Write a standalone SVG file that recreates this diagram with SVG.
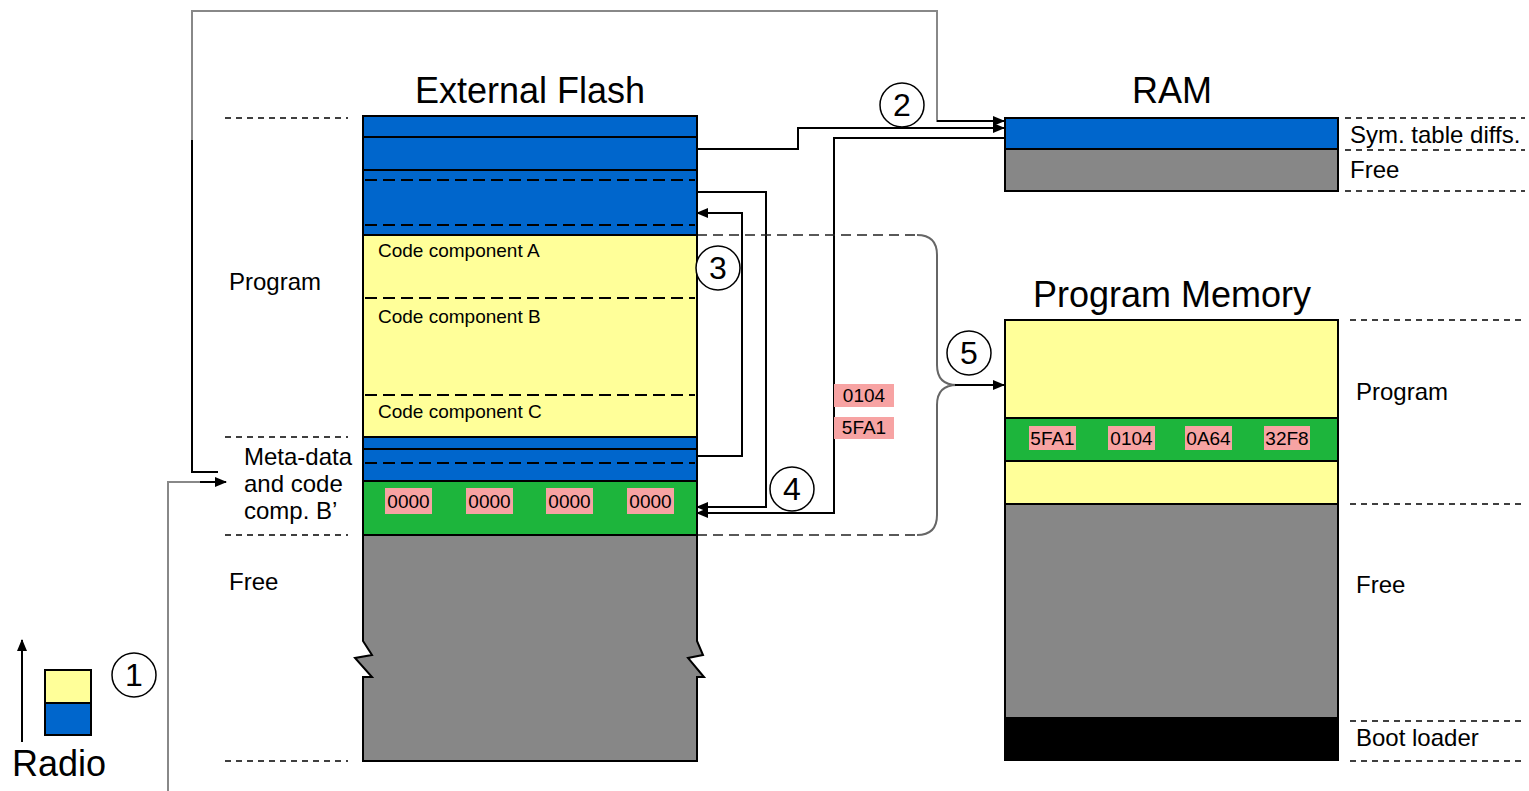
<svg xmlns="http://www.w3.org/2000/svg" width="1529" height="791" viewBox="0 0 1529 791">
  <style>
    .title { font-family: "Liberation Sans", Arial, sans-serif; font-size: 36px; fill: #000; }
    .lbl { font-family: "Liberation Sans", Arial, sans-serif; font-size: 24px; fill: #000; }
    .code { font-family: "Liberation Sans", Arial, sans-serif; font-size: 19px; fill: #000; }
    .hex { font-family: "Liberation Sans", Arial, sans-serif; font-size: 19px; fill: #000; text-anchor: middle; }
    .num { font-family: "Liberation Sans", Arial, sans-serif; font-size: 32px; fill: #000; text-anchor: middle; }
    .blue { fill: #0066cc; stroke: #000; stroke-width: 2; }
    .yellow { fill: #ffff99; stroke: #000; stroke-width: 2; }
    .green { fill: #1db53c; stroke: #000; stroke-width: 2; }
    .gray { fill: #878787; stroke: #000; stroke-width: 2; }
    .black { fill: #000; stroke: #000; stroke-width: 2; }
    .tag { fill: #f7a3a3; }
    .div { stroke: #000; stroke-width: 2; stroke-dasharray: 12 6; fill: none; }
    .sep { stroke: #000; stroke-width: 1.5; stroke-dasharray: 6 5; fill: none; }
    .wire { stroke: #000; stroke-width: 2; fill: none; }
    .wireg { stroke: #888; stroke-width: 2; fill: none; }
    .brace { stroke: #666; stroke-width: 2; fill: none; }
    .dash { stroke: #222; stroke-width: 1.5; stroke-dasharray: 10 6; fill: none; }
    .circ { fill: #fff; stroke: #000; stroke-width: 1.5; }
  </style>
  <defs>
    <marker id="arr" markerWidth="12" markerHeight="10" refX="11" refY="5" orient="auto" markerUnits="userSpaceOnUse">
      <path d="M0,0 L12,5 L0,10 Z" fill="#000"/>
    </marker>
  </defs>

  <rect width="1529" height="791" fill="#fff"/>

  <!-- connectors -->
  <g id="connectors">
    <!-- radio download into flash -->
    <polyline class="wireg" points="168,791 168,482 214,482"/>
    <line class="wire" x1="200" y1="482" x2="226" y2="482" marker-end="url(#arr)"/>
    <!-- meta-data path to RAM -->
    <polyline class="wire" points="218,472 192,472 192,140"/>
    <polyline class="wireg" points="192,140 192,11 937,11 937,121 960,121"/>
    <line class="wire" x1="937" y1="121" x2="1004" y2="121" marker-end="url(#arr)"/>
    <!-- step 2: symbol table to RAM -->
    <polyline class="wire" points="696,149 798,149 798,128 1004,128" marker-end="url(#arr)"/>
    <!-- step 4: values read back from RAM -->
    <polyline class="wire" points="1005,138 834,138 834,513 697,513" marker-end="url(#arr)"/>
    <!-- step 3 -->
    <polyline class="wire" points="696,456 742,456 742,213 697,213" marker-end="url(#arr)"/>
    <!-- step 4 -->
    <polyline class="wire" points="696,192 766,192 766,507 697,507" marker-end="url(#arr)"/>
    <!-- step 5: brace into program memory -->
    <line class="dash" x1="697" y1="235" x2="917" y2="235"/>
    <line class="dash" x1="697" y1="535" x2="917" y2="535"/>
    <path class="brace" d="M917,235 Q937,235 937,255 V365 Q937,385 957,385 Q937,385 937,405 V515 Q937,535 917,535"/>
    <line class="wire" x1="955" y1="385" x2="1004" y2="385" marker-end="url(#arr)"/>
    <!-- radio legend arrow -->
    <line class="wire" x1="22" y1="742" x2="22" y2="640" marker-end="url(#arr)"/>
  </g>

  <!-- External Flash -->
  <g id="flash">
    <text class="title" x="530" y="103" text-anchor="middle">External Flash</text>
    <path class="gray" d="M363,535 H697 V641 L703,655 L688,658 L704,677 H697 V761 H363 V677 H372 L355,658 L372,655 L363,641 Z"/>
    <rect class="blue" x="363" y="116" width="334" height="21"/>
    <rect class="blue" x="363" y="137" width="334" height="33"/>
    <rect class="blue" x="363" y="170" width="334" height="65"/>
    <line class="div" x1="365" y1="180" x2="695" y2="180"/>
    <line class="div" x1="365" y1="225" x2="695" y2="225"/>
    <rect class="yellow" x="363" y="235" width="334" height="202"/>
    <line class="div" x1="365" y1="298" x2="695" y2="298"/>
    <line class="div" x1="365" y1="395" x2="695" y2="395"/>
    <text class="code" x="378" y="257">Code component A</text>
    <text class="code" x="378" y="323">Code component B</text>
    <text class="code" x="378" y="418">Code component C</text>
    <rect class="blue" x="363" y="437" width="334" height="12"/>
    <rect class="blue" x="363" y="449" width="334" height="32"/>
    <line class="div" x1="365" y1="463" x2="695" y2="463"/>
    <rect class="green" x="363" y="481" width="334" height="54"/>
    <rect class="tag" x="385" y="488" width="47" height="26"/>
    <rect class="tag" x="466" y="488" width="47" height="26"/>
    <rect class="tag" x="546" y="488" width="47" height="26"/>
    <rect class="tag" x="627" y="488" width="47" height="26"/>
    <text class="hex" x="408.5" y="508">0000</text>
    <text class="hex" x="489.5" y="508">0000</text>
    <text class="hex" x="569.5" y="508">0000</text>
    <text class="hex" x="650.5" y="508">0000</text>
  </g>

  <!-- Flash region labels -->
  <g id="flash-labels">
    <line class="sep" x1="225" y1="118" x2="348" y2="118"/>
    <line class="sep" x1="225" y1="437" x2="348" y2="437"/>
    <line class="sep" x1="225" y1="535" x2="348" y2="535"/>
    <line class="sep" x1="225" y1="761" x2="348" y2="761"/>
    <text class="lbl" x="229" y="290">Program</text>
    <text class="lbl" x="244" y="465">Meta-data</text>
    <text class="lbl" x="244" y="492">and code</text>
    <text class="lbl" x="244" y="519">comp. B’</text>
    <text class="lbl" x="229" y="590">Free</text>
  </g>

  <!-- RAM -->
  <g id="ram">
    <text class="title" x="1172" y="103" text-anchor="middle">RAM</text>
    <rect class="blue" x="1005" y="118" width="333" height="31"/>
    <rect class="gray" x="1005" y="149" width="333" height="42"/>
    <line class="sep" x1="1345" y1="118" x2="1525" y2="118"/>
    <line class="sep" x1="1345" y1="150" x2="1525" y2="150"/>
    <line class="sep" x1="1345" y1="191" x2="1525" y2="191"/>
    <text class="lbl" x="1350" y="143">Sym. table diffs.</text>
    <text class="lbl" x="1350" y="178">Free</text>
  </g>

  <!-- Program Memory -->
  <g id="program-memory">
    <text class="title" x="1172" y="307" text-anchor="middle">Program Memory</text>
    <rect class="yellow" x="1005" y="320" width="333" height="98"/>
    <rect class="green" x="1005" y="418" width="333" height="43"/>
    <rect class="yellow" x="1005" y="461" width="333" height="43"/>
    <rect class="gray" x="1005" y="504" width="333" height="214"/>
    <rect class="black" x="1005" y="718" width="333" height="42"/>
    <rect class="tag" x="1029" y="426" width="47" height="24"/>
    <rect class="tag" x="1108" y="426" width="47" height="24"/>
    <rect class="tag" x="1185" y="426" width="47" height="24"/>
    <rect class="tag" x="1264" y="426" width="46" height="24"/>
    <text class="hex" x="1052.5" y="445">5FA1</text>
    <text class="hex" x="1131.5" y="445">0104</text>
    <text class="hex" x="1208.5" y="445">0A64</text>
    <text class="hex" x="1287" y="445">32F8</text>
    <line class="sep" x1="1350" y1="320" x2="1525" y2="320"/>
    <line class="sep" x1="1350" y1="504" x2="1525" y2="504"/>
    <line class="sep" x1="1350" y1="721" x2="1525" y2="721"/>
    <line class="sep" x1="1350" y1="761" x2="1525" y2="761"/>
    <text class="lbl" x="1356" y="400">Program</text>
    <text class="lbl" x="1356" y="593">Free</text>
    <text class="lbl" x="1356" y="746">Boot loader</text>
  </g>

  <!-- values in transit -->
  <g id="transit-values">
    <rect class="tag" x="834" y="384" width="60" height="23"/>
    <rect class="tag" x="834" y="417" width="60" height="22"/>
    <text class="hex" x="864" y="402">0104</text>
    <text class="hex" x="864" y="434">5FA1</text>
  </g>

  <!-- radio legend -->
  <g id="radio">
    <rect class="yellow" x="45" y="670" width="46" height="33" stroke-width="1.5"/>
    <rect class="blue" x="45" y="703" width="46" height="32" stroke-width="1.5"/>
    <text class="title" x="12" y="776">Radio</text>
  </g>

  <!-- step numbers -->
  <g id="step-1"><circle class="circ" cx="134" cy="675" r="22"/><text class="num" x="134" y="686">1</text></g>
  <g id="step-2"><circle class="circ" cx="902" cy="105" r="22"/><text class="num" x="902" y="116">2</text></g>
  <g id="step-3"><circle class="circ" cx="718" cy="268" r="22"/><text class="num" x="718" y="279">3</text></g>
  <g id="step-4"><circle class="circ" cx="792" cy="489" r="22"/><text class="num" x="792" y="500">4</text></g>
  <g id="step-5"><circle class="circ" cx="969" cy="353" r="22"/><text class="num" x="969" y="364">5</text></g>
</svg>
